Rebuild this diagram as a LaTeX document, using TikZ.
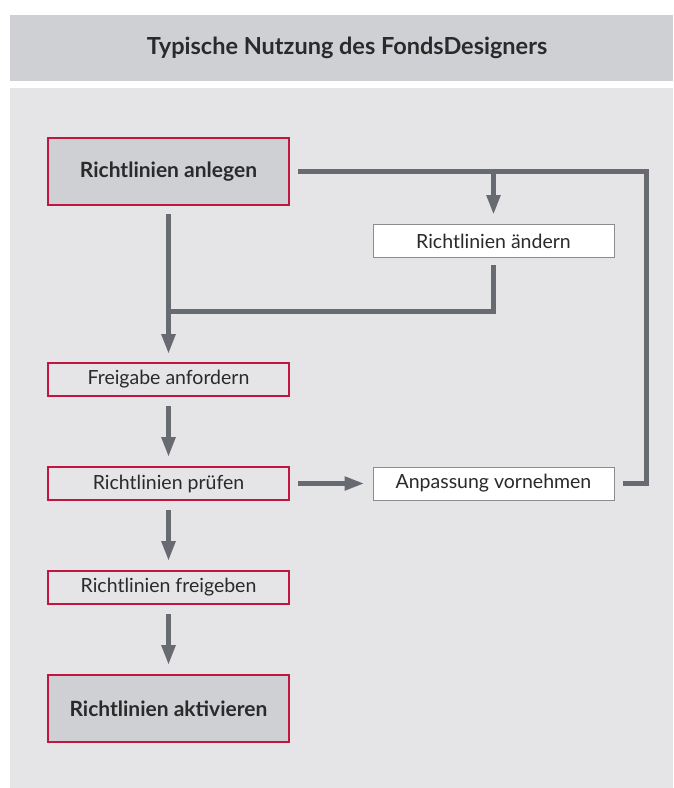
\documentclass[tikz,border=0pt]{standalone}
\usepackage{fontspec}
\setmainfont{Lato}
\usepackage{xcolor}
\usepackage{tikz}
\usetikzlibrary{arrows.meta,positioning,calc}

\definecolor{kopfgrau}{HTML}{CFD0D4}
\definecolor{flaeche}{HTML}{E5E5E7}
\definecolor{rahmenrot}{HTML}{C0163F}
\definecolor{pfeilgrau}{HTML}{676A70}
\definecolor{rahmengrau}{HTML}{8A8C90}
\definecolor{schrift}{HTML}{2A2A2A}

\begin{document}
\begin{tikzpicture}[x=1pt, y=-1pt, >={Triangle[length=20pt, width=13pt]}]
 \tikzset{block/.style={rectangle, minimum width=241pt, minimum height=33pt, inner sep=0pt, draw=rahmenrot, line width=1.6pt, fill=flaeche, text=schrift, font=\fontsize{19.5}{23}\selectfont}};
 \tikzset{hauptblock/.style={block, minimum height=67pt, fill=kopfgrau, font=\bfseries\fontsize{21}{25}\selectfont}};
 \tikzset{nebenblock/.style={block, draw=rahmengrau, line width=1pt, fill=white}};
 \tikzset{verbindung/.style={draw=pfeilgrau, line width=5pt}};
  \useasboundingbox (0,0) rectangle (673,788);
  % Hintergrund
  \fill[white] (0,0) rectangle (673,788);
  \fill[kopfgrau] (10,15) rectangle (673,81);
  \fill[flaeche] (10,88) rectangle (673,788);
  \node[text=schrift, font=\bfseries\fontsize{23.5}{28}\selectfont] (titel) at (347,48) {Typische Nutzung des FondsDesigners};
  % Bloecke
  \node[hauptblock] (anlegen) at (168.5,171.5) {Richtlinien anlegen};
  \node[nebenblock] (aendern) at (493.5,241) {Richtlinien ändern};
  \node[block] (anfordern) at (168.5,379.5) {Freigabe anfordern};
  \node[block] (pruefen) at (168.5,483.5) {Richtlinien prüfen};
  \node[nebenblock] (anpassen) at (493.5,483.5) {Anpassung vornehmen};
  \node[block] (freigeben) at (168.5,587.5) {Richtlinien freigeben};
  \node[hauptblock] (aktivieren) at (168.5,708.5) {Richtlinien aktivieren};
  \coordinate (rechts) at (646,171.5);
  \coordinate (zusammen) at (168.5,311);
  % Verbindungen
  \draw[verbindung] ([xshift=8pt]anpassen.east) -| (rechts) -- ([xshift=8pt]anlegen.east);
  \draw[verbindung, ->] (aendern.north |- rechts) -- ([yshift=9pt]aendern.north);
  \draw[verbindung] ([yshift=-7pt]aendern.south) |- (zusammen);
  \draw[verbindung, ->] ([yshift=-8pt]anlegen.south) -- ([yshift=8pt]anfordern.north);
  \draw[verbindung, ->] ([yshift=-9pt]anfordern.south) -- ([yshift=9pt]pruefen.north);
  \draw[verbindung, ->] ([xshift=8pt]pruefen.east) -- ([xshift=-8pt]anpassen.west);
  \draw[verbindung, ->] ([yshift=-9pt]pruefen.south) -- ([yshift=9pt]freigeben.north);
  \draw[verbindung, ->] ([yshift=-9pt]freigeben.south) -- ([yshift=9pt]aktivieren.north);
\end{tikzpicture}
\end{document}
